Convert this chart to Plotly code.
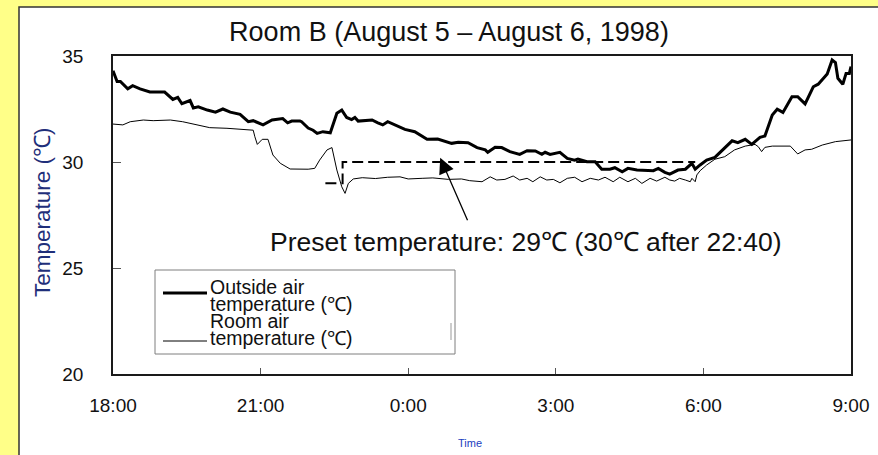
import plotly.graph_objects as go
from datetime import datetime

# ---------------- data ----------------
outside_time = ["18:00","18:03","18:05","18:09","18:18","18:24","18:33","18:45","19:03","19:13",
                "19:19","19:24","19:34","19:38","19:44","19:55","20:05","20:14","20:23","20:35",
                "20:45","20:51","21:03","21:14","21:27","21:33","21:38","21:48","21:50","21:58",
                "22:04","22:09","22:16","22:25","22:33","22:39","22:45","22:51","22:55","22:59",
                "23:16","23:23","23:29","23:35","23:44","23:56","0:08","0:23","0:36","0:53",
                "1:01","1:13","1:24","1:34","1:37","1:46","1:54","2:04","2:16","2:25",
                "2:35","2:43","2:47","2:53","3:05","3:14","3:23","3:27","3:38","3:48",
                "3:56","4:06","4:12","4:21","4:28","4:39","4:59","5:05","5:13","5:19",
                "5:29","5:38","5:46","5:50","5:56","6:04","6:14","6:24","6:35","6:42",
                "6:51","6:59","7:09","7:15","7:24","7:30","7:37","7:48","7:55","8:04",
                "8:14","8:20","8:31","8:37","8:41","8:44","8:50","8:54","8:58","9:00"]
outside_temp = [34.3,34.0,33.8,33.8,33.45,33.6,33.45,33.3,33.3,32.95,
                33.05,32.75,32.9,32.55,32.6,32.45,32.35,32.5,32.35,32.25,
                31.9,31.95,31.75,31.98,32.05,31.85,31.93,31.93,31.9,31.6,
                31.5,31.35,31.43,31.38,32.3,32.45,32.1,32.0,32.1,31.93,
                31.98,31.85,31.75,31.9,31.75,31.54,31.43,31.07,31.08,30.88,
                30.93,30.91,30.68,30.57,30.46,30.69,30.68,30.49,30.36,30.53,
                30.52,30.36,30.46,30.36,30.46,30.17,30.09,30.14,30.01,30.01,
                29.66,29.66,29.73,29.54,29.7,29.62,29.59,29.7,29.51,29.43,
                29.62,29.66,29.94,29.66,29.86,30.09,30.22,30.57,31.0,30.91,
                31.07,30.83,31.16,31.23,32.22,32.49,32.34,33.08,33.08,32.74,
                33.55,33.67,34.15,34.81,34.69,33.95,33.67,34.18,34.18,34.5]

room_time = ["18:00","18:12","18:21","18:37","18:49","19:10","19:25","19:42","19:58","20:19",
             "20:39","20:51","20:53","20:56","21:02","21:09","21:15","21:24","21:36","21:48",
             "21:58","22:06","22:12","22:21","22:27","22:33","22:39","22:43","22:47","22:53",
             "23:04","23:20","23:35","23:50","0:00","0:17","0:30","0:49","1:05","1:15",
             "1:30","1:40","1:48","1:58","2:08","2:16","2:25","2:32","2:41","2:49",
             "2:57","3:05","3:14","3:23","3:32","3:42","3:52","4:00","4:10","4:18",
             "4:28","4:37","4:45","4:55","5:03","5:13","5:19","5:25","5:31","5:38",
             "5:44","5:46","5:50","5:52","5:56","6:04","6:14","6:26","6:38","6:51",
             "7:03","7:07","7:11","7:15","7:24","7:46","7:52","7:55","8:04","8:12",
             "8:25","8:41","9:00"]
room_temp = [31.79,31.75,31.9,31.98,31.95,31.98,31.9,31.75,31.62,31.59,
             31.54,31.5,31.19,30.83,31.07,31.07,30.33,29.94,29.67,29.66,
             29.66,29.7,30.09,30.57,30.68,29.62,28.83,28.52,28.99,29.2,
             29.26,29.22,29.28,29.3,29.2,29.23,29.25,29.18,29.2,29.12,
             29.07,29.3,29.15,29.18,29.34,29.15,29.23,29.07,29.3,29.15,
             29.18,29.02,29.23,29.28,29.07,29.23,29.15,29.28,29.07,29.28,
             29.07,29.23,28.99,29.23,29.1,29.28,29.15,29.1,29.23,29.15,
             29.07,29.23,29.07,29.39,29.59,29.86,30.13,30.25,30.57,30.75,
             30.83,30.72,30.49,30.69,30.75,30.75,30.52,30.38,30.57,30.6,
             30.8,30.96,31.04]

preset_time = ["22:19", "22:40", "22:40", "5:50"]
preset_temp = [29, 29, 30, 30]

y_ticks = [20, 25, 30, 35]

title_text = "Room B (August 5 \u2013 August 6, 1998)"
ytitle_text = "Temperature (\u2103)"
xtitle_text = "Time"
legend_lines = [["Outside air", "temperature (\u2103)"], ["Room air", "temperature (\u2103)"]]
annot_text = "Preset temperature: 29\u2103 (30\u2103 after 22:40)"


def to_dt(s):
    h, m = map(int, s.split(":"))
    day = 5 if h >= 18 else 6
    return datetime(1998, 8, day, h, m)


# ---------------- layout geometry (pixels) ----------------
W, H = 878, 455
L, R, T, B = 113, 851, 56, 374
PW, PH = R - L, B - T


def px2x(px):
    return (px - L) / PW


def py2y(py):
    return (B - py) / PH


FONT = "Liberation Sans, Arial, sans-serif"

fig = go.Figure()
fig.add_trace(go.Scatter(x=[to_dt(t) for t in outside_time], y=outside_temp, mode="lines",
                         line=dict(color="#000000", width=3), name="Outside air temperature (\u2103)",
                         showlegend=False))
fig.add_trace(go.Scatter(x=[to_dt(t) for t in room_time], y=room_temp, mode="lines",
                         line=dict(color="#000000", width=1), name="Room air temperature (\u2103)",
                         showlegend=False))
fig.add_trace(go.Scatter(x=[to_dt(t) for t in preset_time], y=preset_temp, mode="lines",
                         line=dict(color="#000000", width=2, dash="11px,5px"), name="Preset temperature",
                         showlegend=False))

shapes = []
# outer white frame
shapes.append(dict(type="rect", xref="paper", yref="paper", x0=px2x(19), x1=px2x(900),
                   y0=py2y(480), y1=py2y(7), fillcolor="white", line=dict(color="#333333", width=1.5),
                   layer="below"))
# legend box
shapes.append(dict(type="rect", xref="paper", yref="paper", x0=px2x(155), x1=px2x(455),
                   y0=py2y(354), y1=py2y(270), fillcolor="white", line=dict(color="#7f7f7f", width=1),
                   layer="above"))
shapes.append(dict(type="line", xref="paper", yref="paper", x0=px2x(451), x1=px2x(451),
                   y0=py2y(340), y1=py2y(323), line=dict(color="#999999", width=1)))
# legend samples
shapes.append(dict(type="line", xref="paper", yref="paper", x0=px2x(163), x1=px2x(207),
                   y0=py2y(293), y1=py2y(293), line=dict(color="black", width=3)))
shapes.append(dict(type="line", xref="paper", yref="paper", x0=px2x(163), x1=px2x(207),
                   y0=py2y(341), y1=py2y(341), line=dict(color="black", width=1)))

annotations = []
line_centers = [287, 304, 321, 338]
k = 0
for item in legend_lines:
    for txt in item:
        annotations.append(dict(text=txt, xref="paper", yref="paper", x=px2x(208), y=py2y(line_centers[k]),
                                xanchor="left", yanchor="middle", showarrow=False,
                                font=dict(family=FONT, size=19.5, color="#111111")))
        k += 1

annotations.append(dict(text=ytitle_text, xref="paper", yref="paper", x=px2x(42), y=py2y(212),
                        textangle=-90, showarrow=False, xanchor="center", yanchor="middle",
                        font=dict(family=FONT, size=22.5, color="#1F2F7A")))
annotations.append(dict(text=xtitle_text, xref="paper", yref="paper", x=px2x(470), y=py2y(443),
                        showarrow=False, xanchor="center", yanchor="middle",
                        font=dict(family=FONT, size=11, color="#2040C0")))
annotations.append(dict(text=annot_text, xref="paper", yref="paper", x=px2x(526), y=py2y(242),
                        showarrow=False, xanchor="center", yanchor="middle",
                        font=dict(family=FONT, size=26.5, color="#111111")))
annotations.append(dict(text="", x=to_dt("0:39"), y=30.2, xref="x", yref="y", showarrow=True,
                        ax=28, ay=64, arrowhead=2, arrowsize=2.4, arrowwidth=1.3, arrowcolor="black",
                        standoff=0, startstandoff=0))

fig.update_layout(
    width=W, height=H,
    margin=dict(l=L, r=W - R, t=T, b=H - B, autoexpand=False),
    paper_bgcolor="#FFFF88", plot_bgcolor="white",
    title=dict(text=title_text, x=449 / W, xanchor="center", y=1 - 32 / H, yanchor="middle",
               xref="container", yref="container", font=dict(family=FONT, size=27, color="#111111")),
    shapes=shapes, annotations=annotations,
    showlegend=False,
)
fig.update_xaxes(range=[datetime(1998, 8, 5, 18, 0), datetime(1998, 8, 6, 9, 0)],
                 tick0=datetime(1998, 8, 5, 18, 0), dtick=3 * 3600 * 1000, tickformat="%-H:%M",
                 ticks="inside", ticklen=6, tickcolor="#555555", tickwidth=1,
                 showline=True, mirror=True, linecolor="#1a1a1a", linewidth=1.5,
                 showgrid=False, zeroline=False, ticklabelstandoff=13,
                 tickfont=dict(family=FONT, size=19, color="#111111"))
fig.update_yaxes(range=[20, 35], tickvals=y_ticks, ticks="inside", ticklen=8, tickcolor="#555555",
                 tickwidth=1, showline=True, mirror=True, linecolor="#1a1a1a", linewidth=1.5,
                 showgrid=False, zeroline=False, ticklabelstandoff=24,
                 tickfont=dict(family=FONT, size=19, color="#111111"))

fig.write_html("out.html", config={"displayModeBar": False},
               post_script="document.body.style.margin='0px';")
